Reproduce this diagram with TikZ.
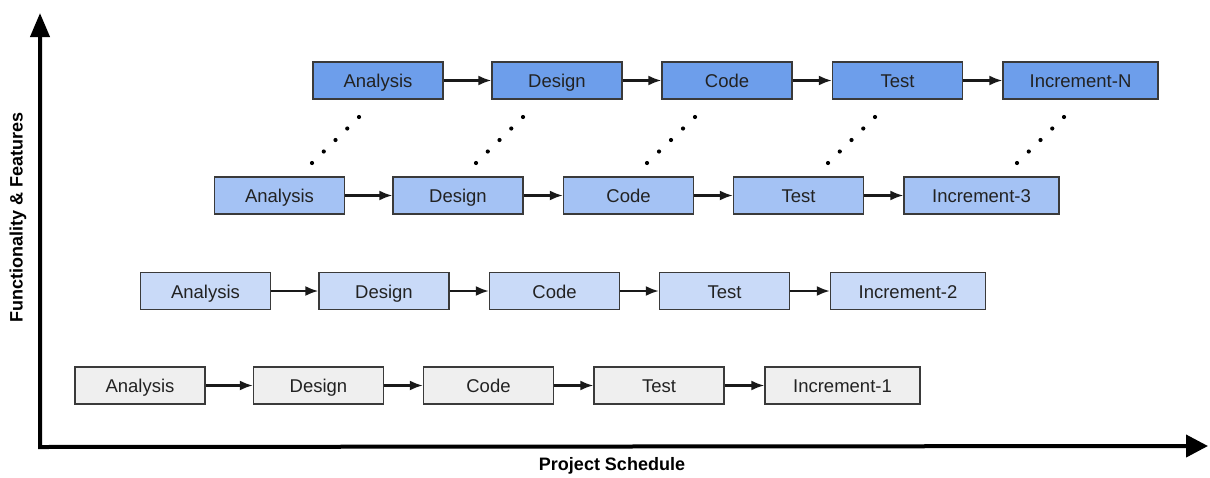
\documentclass[tikz,border=0pt]{standalone}
\usepackage{fontspec}
\setmainfont{Liberation Sans}
\usetikzlibrary{arrows.meta,calc}
\definecolor{rowA}{HTML}{EFEFEF}
\definecolor{rowB}{HTML}{C9DAF8}
\definecolor{rowC}{HTML}{A4C2F4}
\definecolor{rowD}{HTML}{6D9EEB}
\definecolor{edgegray}{HTML}{3A3A3A}
\definecolor{txt}{HTML}{222222}
\tikzset{
  box/.style={draw=edgegray, line width=1.3pt, minimum width=130pt, minimum height=37pt,
    inner sep=0pt, text=txt, font=\fontsize{18.5}{20}\selectfont,
    text height=14pt, text depth=0pt},
  incbox/.style={box, minimum width=155pt},
  flow/.style={line width=2.3pt, draw=black!90, -{Latex[length=13pt,width=10pt]}},
  axis/.style={line width=4pt, draw=black, {Triangle[length=24pt,width=19pt]}-{Triangle[length=22pt,width=22pt]}},
  axlabel/.style={font=\fontsize{18}{20}\selectfont\bfseries, text=black, inner sep=0pt}
}
\begin{document}
\begin{tikzpicture}[x=1pt,y=-1pt]
\useasboundingbox[fill=white] (0,0) rectangle (1210,477);

% axes
\coordinate (O) at (40,447);
\coordinate (ytip) at (40,13);
\coordinate (xtip) at (1208,446);
\draw[axis] (ytip) -- (O) -- (xtip);
\node[axlabel, rotate=90] (ylab) at (18,217) {Functionality \& Features};
\node[axlabel] (xlab) at (612,466) {Project Schedule};

% row 1
\node[box, fill=rowA] (a1) at (140,385.5) {Analysis};
\node[box, fill=rowA] (d1) at (318.5,385.5) {Design};
\node[box, fill=rowA] (c1) at (488.5,385.5) {Code};
\node[box, fill=rowA] (t1) at (659,385.5) {Test};
\node[incbox, fill=rowA] (i1) at (842.5,385.5) {Increment-1};
% row 2
\node[box, fill=rowB] (a2) at (205.5,291) {Analysis};
\node[box, fill=rowB] (d2) at (384,291) {Design};
\node[box, fill=rowB] (c2) at (554.5,291) {Code};
\node[box, fill=rowB] (t2) at (724.5,291) {Test};
\node[incbox, fill=rowB] (i2) at (908,291) {Increment-2};
% row 3
\node[box, fill=rowC] (a3) at (279.5,195.5) {Analysis};
\node[box, fill=rowC] (d3) at (458,195.5) {Design};
\node[box, fill=rowC] (c3) at (628.5,195.5) {Code};
\node[box, fill=rowC] (t3) at (798.5,195.5) {Test};
\node[incbox, fill=rowC] (i3) at (981.5,195.5) {Increment-3};
% row 4
\node[box, fill=rowD] (a4) at (378,80.5) {Analysis};
\node[box, fill=rowD] (d4) at (557,80.5) {Design};
\node[box, fill=rowD] (c4) at (727,80.5) {Code};
\node[box, fill=rowD] (t4) at (897.5,80.5) {Test};
\node[incbox, fill=rowD] (i4) at (1080.5,80.5) {Increment-N};

% flow arrows
\foreach \r in {1,2,3,4}{
  \draw[flow] (a\r) -- (d\r);
  \draw[flow] (d\r) -- (c\r);
  \draw[flow] (c\r) -- (t\r);
  \draw[flow] (t\r) -- (i\r);
}

% dotted links between row 3 and row 4
\coordinate (sa) at (359,117); \coordinate (ea) at (312,163);
\coordinate (sd) at (523,117); \coordinate (ed) at (476,163);
\coordinate (sc) at (695,117); \coordinate (ec) at (647,163);
\coordinate (st) at (875,117); \coordinate (et) at (828,163);
\coordinate (si) at (1064,117); \coordinate (ei) at (1017,163);
\foreach \k in {a,d,c,t,i}{
  \foreach \q in {0,1,2,3,4}{
    \fill[black] ($(s\k)!\q/4!(e\k)$) circle (2.1pt);
  }
}
\end{tikzpicture}
\end{document}
